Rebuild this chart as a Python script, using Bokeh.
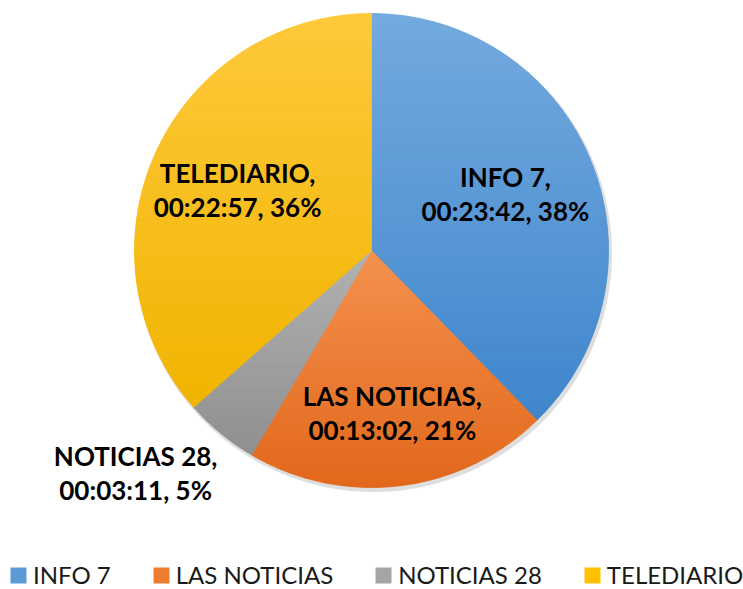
import numpy as np
from bokeh.plotting import figure
from bokeh.models import ColumnDataSource, Range1d, Legend, LegendItem
from bokeh.core.properties import value
from bokeh.embed import file_html
from bokeh.resources import INLINE

# ---- data ----
categories = ["INFO 7", "LAS NOTICIAS", "NOTICIAS 28", "TELEDIARIO"]
durations = ["00:23:42", "00:13:02", "00:03:11", "00:22:57"]
percent_labels = ["38%", "21%", "5%", "36%"]

# ---- styles ----
colors = ["#5B9BD5", "#ED7D31", "#A5A5A5", "#FFC000"]
top_colors = ["#74AADF", "#F4914F", "#B2B2B2", "#FFC93C"]
bottom_colors = ["#3F86CC", "#E2681B", "#8F8F8F", "#F0B400"]
label_r_frac = [0.61, 0.69, 1.38, 0.62]
label_dx = [0, 1, -28, 0]
label_dy = [2, 0, 30, 0]

def to_sec(s):
    h, m, sec = s.split(":")
    return int(h) * 3600 + int(m) * 60 + int(sec)

secs = np.array([to_sec(d) for d in durations], dtype=float)
frac = secs / secs.sum()
cum = np.concatenate([[0], np.cumsum(frac)])
start = np.pi / 2 - cum[:-1] * 2 * np.pi
end = np.pi / 2 - cum[1:] * 2 * np.pi
mid = (start + end) / 2

W, H = 743, 589
cx, cy, R = 371, 339, 237

p = figure(width=W, height=H, output_backend="svg", toolbar_location=None,
           x_range=Range1d(0, W), y_range=Range1d(0, H), min_border=0)
p.axis.visible = False
p.grid.visible = False
p.outline_line_color = None

# shadow
p.circle(x=[cx + 2], y=[cy - 3], radius=R + 1.5, fill_color="#000000",
         fill_alpha=0.13, line_color=None)

src = ColumnDataSource(dict(cat=categories, start=start, end=end, color=colors))
wedges = p.wedge(x=cx, y=cy, radius=R, start_angle="start", end_angle="end",
                 direction="clock", fill_color="color", line_color=None,
                 source=src)

# gradient overlay: each wedge split into horizontal bands
def hexrgb(h):
    h = h.lstrip("#")
    return np.array([int(h[i:i + 2], 16) for i in (0, 2, 4)], dtype=float)

def clip(poly, yv, keep_above):
    out = []
    n = len(poly)
    for k in range(n):
        a, b = poly[k], poly[(k + 1) % n]
        ina = a[1] >= yv if keep_above else a[1] <= yv
        inb = b[1] >= yv if keep_above else b[1] <= yv
        if ina:
            out.append(a)
        if ina != inb:
            t = (yv - a[1]) / (b[1] - a[1])
            out.append((a[0] + t * (b[0] - a[0]), yv))
    return out

bx, by, bc = [], [], []
NB = 48
for i in range(len(categories)):
    th = np.linspace(start[i], end[i], 240)
    pts = [(cx, cy)] + [(cx + R * np.cos(t), cy + R * np.sin(t)) for t in th]
    ys = [q[1] for q in pts]
    ymin, ymax = min(ys), max(ys)
    c0, c1 = hexrgb(top_colors[i]), hexrgb(bottom_colors[i])
    edges = np.linspace(ymin, ymax, NB + 1)
    for k in range(NB):
        poly = clip(clip(pts, edges[k], True), edges[k + 1], False)
        if len(poly) < 3:
            continue
        f = 1 - ((edges[k] + edges[k + 1]) / 2 - ymin) / (ymax - ymin)
        c = c0 + (c1 - c0) * f
        bx.append([q[0] for q in poly])
        by.append([q[1] for q in poly])
        bc.append("#%02x%02x%02x" % tuple(int(round(v)) for v in c))
p.patches(xs=bx, ys=by, fill_color=bc, line_color=bc, line_width=0.7)

# labels
lx, ly1, ly2, t1, t2 = [], [], [], [], []
for i, c in enumerate(categories):
    r = R * label_r_frac[i]
    x = cx + r * np.cos(mid[i]) + label_dx[i]
    y = cy + r * np.sin(mid[i]) + label_dy[i]
    lx.append(x)
    ly1.append(y + 17)
    ly2.append(y - 17)
    t1.append(c + ",")
    t2.append(durations[i] + ", " + percent_labels[i])
lsrc = ColumnDataSource(dict(x=lx + lx, y=ly1 + ly2, t=t1 + t2))
p.text(x="x", y="y", text="t", source=lsrc, text_align="center",
       text_baseline="middle", text_font=value("Lato"), text_font_style="bold",
       text_font_size="26px", text_color="#000000")

items = [LegendItem(label=c, renderers=[wedges], index=i) for i, c in enumerate(categories)]
legend = Legend(items=items, orientation="horizontal", location=(8, 0),
                label_text_font="Lato", label_text_font_size="24px",
                label_text_color="#1a1a1a", glyph_width=20, glyph_height=20,
                label_standoff=5, spacing=40, border_line_color=None,
                background_fill_alpha=0, padding=0, margin=0)
p.add_layout(legend, "center")

open("out.html", "w").write(file_html(p, INLINE))
